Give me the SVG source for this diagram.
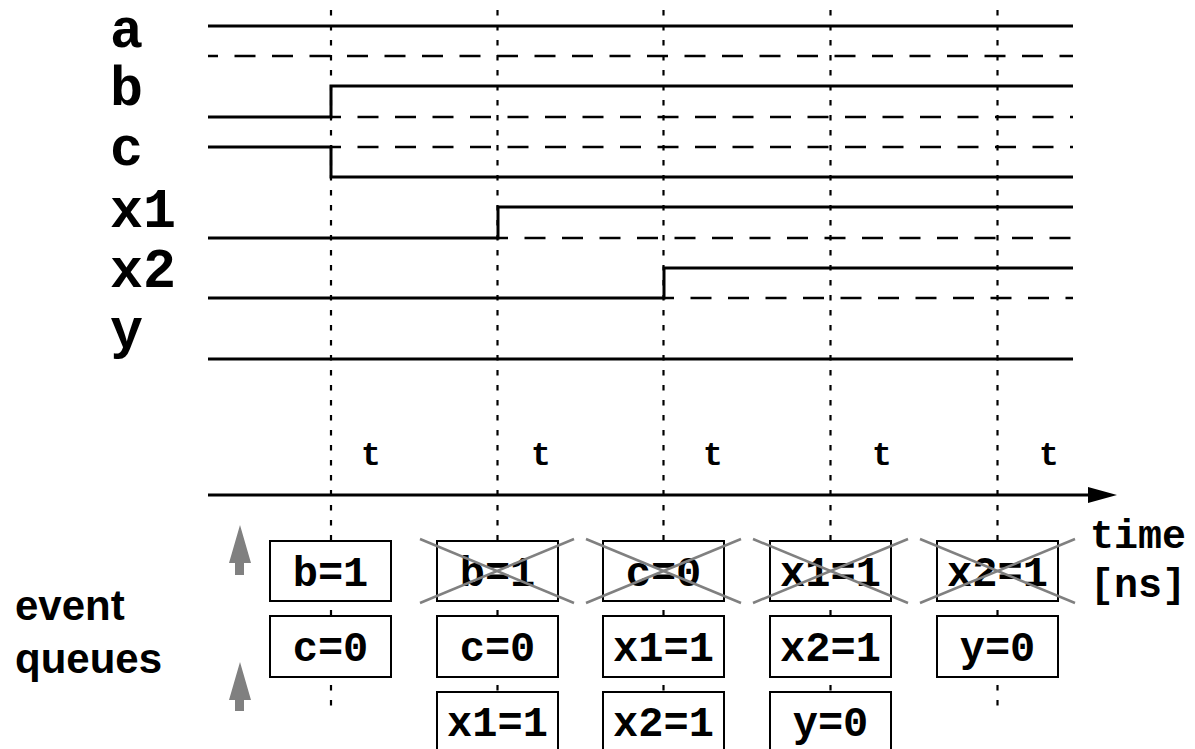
<svg xmlns="http://www.w3.org/2000/svg" width="1195" height="749" viewBox="0 0 1195 749">
<style>
.sig{fill:none;stroke:#000;stroke-width:3}
.zero{fill:none;stroke:#000;stroke-width:2.5;stroke-dasharray:21 16.5;stroke-dashoffset:11}
.grid{fill:none;stroke:#000;stroke-width:2.2;stroke-dasharray:5.5 9.5}
.lbl{font-family:"Liberation Mono",monospace;font-weight:bold;font-size:55px;fill:#000}
.tl{font-family:"Liberation Mono",monospace;font-weight:bold;font-size:33px;fill:#000;text-anchor:middle}
.ax{font-family:"Liberation Mono",monospace;font-weight:bold;font-size:40px;fill:#000}
.box rect{fill:#fff;stroke:#000;stroke-width:2}
.box text{font-family:"Liberation Mono",monospace;font-weight:bold;font-size:42px;fill:#000;text-anchor:middle}
.x{stroke:#808080;stroke-width:2.5;fill:none}
.garrow{fill:#808080}
.side{font-family:"Liberation Sans",Arial,sans-serif;font-weight:bold;font-size:42px;fill:#000}
</style>

<g id="gridlines">
<line class="grid" x1="331" y1="10" x2="331" y2="708"/>
<line class="grid" x1="497.5" y1="10" x2="497.5" y2="708"/>
<line class="grid" x1="663.5" y1="10" x2="663.5" y2="708"/>
<line class="grid" x1="830.5" y1="10" x2="830.5" y2="708"/>
<line class="grid" x1="997.5" y1="10" x2="997.5" y2="708"/>
</g>

<g id="signal-a">
<text class="lbl" x="110" y="47">a</text>
<line class="sig" x1="208" y1="26" x2="1073" y2="26"/>
<line class="zero" x1="208" y1="56" x2="1073" y2="56"/>
</g>
<g id="signal-b">
<text class="lbl" x="110" y="105">b</text>
<polyline class="sig" points="208,117 331,117 331,86 1073,86"/>
<line class="zero" x1="331" y1="117" x2="1073" y2="117"/>
</g>
<g id="signal-c">
<text class="lbl" x="110" y="165">c</text>
<polyline class="sig" points="208,147 331,147 331,177 1073,177"/>
<line class="zero" x1="331" y1="147" x2="1073" y2="147"/>
</g>
<g id="signal-x1">
<text class="lbl" x="110" y="227">x1</text>
<polyline class="sig" points="208,238 498,238 498,207 1073,207"/>
<line class="zero" x1="498" y1="238" x2="1073" y2="238"/>
</g>
<g id="signal-x2">
<text class="lbl" x="110" y="287">x2</text>
<polyline class="sig" points="208,298 664,298 664,268 1073,268"/>
<line class="zero" x1="664" y1="298" x2="1073" y2="298"/>
</g>
<g id="signal-y">
<text class="lbl" x="110" y="347">y</text>
<line class="sig" x1="208" y1="359" x2="1073" y2="359"/>
</g>

<g id="time-axis">
<line x1="208" y1="495" x2="1092" y2="495" stroke="#000" stroke-width="3"/>
<polygon points="1088,487 1117,495 1088,503" fill="#000"/>
<text class="ax" x="1090" y="548">time</text>
<text class="ax" x="1090" y="597">[ns]</text>
</g>

<g id="delta-labels">
<text class="tl" x="371" y="465">t</text>
<text class="tl" x="541" y="465">t</text>
<text class="tl" x="713" y="465">t</text>
<text class="tl" x="882" y="465">t</text>
<text class="tl" x="1049" y="465">t</text>
</g>

<g id="event-queues-label">
<text class="side" x="15" y="620">event</text>
<text class="side" x="15" y="673">queues</text>
<polygon class="garrow" points="240,525 251,563 244,563 244,575 235,575 235,563 229,563"/>
<polygon class="garrow" points="240,662 251,700 244,700 244,711 235,711 235,700 229,700"/>
</g>

<g id="queue-1" class="box">
<rect x="270" y="541" width="121" height="60"/><text x="330.5" y="586">b=1</text>
<rect x="270" y="616" width="121" height="61"/><text x="330.5" y="661">c=0</text>
</g>
<g id="queue-2" class="box">
<rect x="437" y="541" width="121" height="60"/><text x="497.5" y="586">b=1</text>
<rect x="437" y="616" width="121" height="61"/><text x="497.5" y="661">c=0</text>
<rect x="437" y="692" width="121" height="62"/><text x="497.5" y="736">x1=1</text>
<line class="x" x1="420" y1="539" x2="574" y2="603"/><line class="x" x1="420" y1="603" x2="574" y2="539"/>
</g>
<g id="queue-3" class="box">
<rect x="603" y="541" width="121" height="60"/><text x="663.5" y="586">c=0</text>
<rect x="603" y="616" width="121" height="61"/><text x="663.5" y="661">x1=1</text>
<rect x="603" y="692" width="121" height="62"/><text x="663.5" y="736">x2=1</text>
<line class="x" x1="586" y1="539" x2="741" y2="603"/><line class="x" x1="586" y1="603" x2="741" y2="539"/>
</g>
<g id="queue-4" class="box">
<rect x="770" y="541" width="121" height="60"/><text x="830.5" y="586">x1=1</text>
<rect x="770" y="616" width="121" height="61"/><text x="830.5" y="661">x2=1</text>
<rect x="770" y="692" width="121" height="62"/><text x="830.5" y="736">y=0</text>
<line class="x" x1="753" y1="539" x2="908" y2="603"/><line class="x" x1="753" y1="603" x2="908" y2="539"/>
</g>
<g id="queue-5" class="box">
<rect x="937" y="541" width="121" height="60"/><text x="997.5" y="586">x2=1</text>
<rect x="937" y="616" width="121" height="61"/><text x="997.5" y="661">y=0</text>
<line class="x" x1="920" y1="539" x2="1075" y2="603"/><line class="x" x1="920" y1="603" x2="1075" y2="539"/>
</g>
</svg>
